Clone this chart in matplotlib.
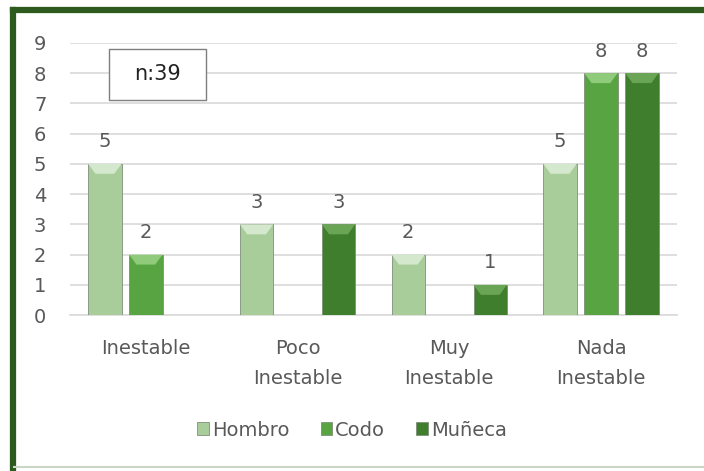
import matplotlib.pyplot as plt
import numpy as np
from matplotlib.patches import Polygon, Rectangle
from matplotlib.lines import Line2D

# datos
categorias = ['Inestable', 'Poco\nInestable', 'Muy\nInestable', 'Nada\nInestable']
hombro = [5, 3, 2, 5]
codo = [2, 0, 0, 8]
muneca = [0, 3, 1, 8]
series = ['Hombro', 'Codo', 'Muñeca']
colores = ['#a8cd9b', '#58a443', '#3f7e2c']
claros = ['#d3e8cc', '#8fcb7a', '#6aa555']

plt.rcParams['font.family'] = ['DejaVu Sans']
gris = '#595959'

fig = plt.figure(figsize=(7.04, 4.71), dpi=100)
ax = fig.add_axes([0.0994, 0.331, 0.862, 0.578])

x = np.arange(len(categorias))
ancho = 0.22
paso = 0.27
for i, (vals, nombre) in enumerate(zip([hombro, codo, muneca], series)):
    pos = x + (i - 1) * paso
    barras = ax.bar(pos, vals, ancho, color=colores[i], edgecolor='#7f8f7a',
                    linewidth=0.6, label=nombre, zorder=3)
    for b, v in zip(barras, vals):
        if v == 0:
            continue
        # biselado superior
        x0, w, h = b.get_x(), b.get_width(), b.get_height()
        ax.add_patch(Polygon([(x0, h), (x0 + w, h), (x0 + w * 0.78, h - 0.33),
                              (x0 + w * 0.22, h - 0.33)], closed=True,
                             facecolor=claros[i], edgecolor='none', zorder=4))
        ax.annotate(str(v), (b.get_x() + w / 2, h), xytext=(0, 9),
                    textcoords='offset points', ha='center', va='bottom',
                    fontsize=14, color=gris)

ax.set_ylim(0, 9)
ax.set_xlim(-0.5, 3.5)
ax.set_yticks(range(10))
ax.yaxis.grid(True, color='#d9d9d9', linewidth=1.2, zorder=0)
ax.set_axisbelow(True)
for s in ['top', 'right', 'left']:
    ax.spines[s].set_visible(False)
ax.spines['bottom'].set_color('#d9d9d9')
ax.spines['bottom'].set_linewidth(1.2)
ax.tick_params(length=0, labelsize=14, colors=gris)
ax.tick_params(axis='y', pad=17)
ax.tick_params(axis='x', pad=17)
ax.set_xticks(x)
ax.set_xticklabels(categorias, linespacing=1.75)

# cuadro n
ax.add_patch(Rectangle((0.064, 0.79), 0.16, 0.188, transform=ax.transAxes,
                       facecolor='white', edgecolor='#7f7f7f', linewidth=1, zorder=5))
ax.text(0.144, 0.884, 'n:39', transform=ax.transAxes, ha='center', va='center',
        fontsize=15, color='#222222', zorder=6)

leg = fig.legend(loc='center', bbox_to_anchor=(0.5, 0.087), ncol=3, frameon=False,
                 fontsize=14, handlelength=0.6, handleheight=0.6, handletextpad=0.15,
                 columnspacing=1.6)
for t in leg.get_texts():
    t.set_color(gris)

# marco
fig.add_artist(Line2D([0.0185, 1.0], [0.978, 0.978], color='#2e5a1e', linewidth=4.5))
fig.add_artist(Line2D([0.0185, 0.0185], [0.0, 0.978], color='#2e5a1e', linewidth=4.5))
fig.add_artist(Line2D([0.02, 1.0], [0.009, 0.009], color='#c9d6c4', linewidth=1.5))

fig.savefig('out.png', dpi=100)
